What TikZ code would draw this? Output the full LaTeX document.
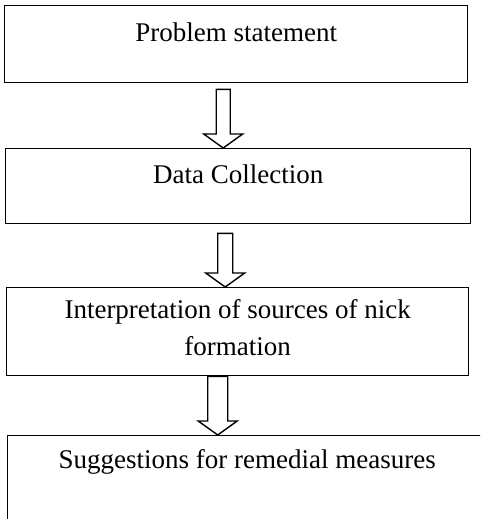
\documentclass[tikz,border=0pt]{standalone}
\usepackage{fontspec}
\setmainfont{Liberation Serif}
\usetikzlibrary{calc}
\tikzset{
    stagebox/.style={
        draw,
        line width=1.4pt,
        inner sep=0pt,
        anchor=north west
    },
    stagetext/.style={
        font=\fontsize{27}{37}\selectfont,
        inner sep=0pt,
        align=center,
        anchor=base
    },
    hollowarrow/.style={
        draw,
        fill=white,
        line width=1.4pt,
        line join=miter
    }
}
% hollow block arrow from (#1) down to the tip (#2), shaft half width #3
\newcommand{\blockarrow}[3]{%
    \path[hollowarrow] let \p1=(#1), \p2=(#2) in
        (\x1-#3pt,\y1) -- (\x1+#3pt,\y1) -- (\x1+#3pt,\y2+14pt) -- (\x1+19.5pt,\y2+14pt)
        -- (\x1,\y2) -- (\x1-19.5pt,\y2+14pt) -- (\x1-#3pt,\y2+14pt) -- cycle;
}

\begin{document}
\begin{tikzpicture}[x=1pt,y=-1pt]
    \useasboundingbox (0,0) rectangle (480,519);
    \clip (0,0) rectangle (480,519);

    \node[stagebox, minimum width=463pt, minimum height=77pt] (ps) at (4,5) {};
    \node[stagebox, minimum width=465pt, minimum height=75pt] (dc) at (5,148) {};
    \node[stagebox, minimum width=462pt, minimum height=88pt] (ie) at (6,287) {};
    \node[stagebox, minimum width=479pt, minimum height=95pt] (sr) at (7,435) {};

    \node[stagetext] (pstext) at ($(ps.north)+(0,37)$) {Problem statement};
    \node[stagetext] (dctext) at ($(dc.north)+(0,35)$) {Data Collection};
    % base of a two-line node is the last line
    \node[stagetext] (ietext) at ($(ie.north)+(0,68)$) {Interpretation of sources of nick\\formation};
    \node[stagetext] (srtext) at ($(sr.north)+(0,33)$) {Suggestions for remedial measures};

    \coordinate (a1top) at ($(ps.south)+(-13,6)$);
    \coordinate (a2top) at ($(dc.south)+(-13,9)$);
    \coordinate (a3top) at ($(ie.south)+(-20,0)$);
    \blockarrow{a1top}{a1top |- dc.north}{7}
    \blockarrow{a2top}{a2top |- ie.north}{7.5}
    \blockarrow{a3top}{a3top |- sr.north}{10}
\end{tikzpicture}
\end{document}
